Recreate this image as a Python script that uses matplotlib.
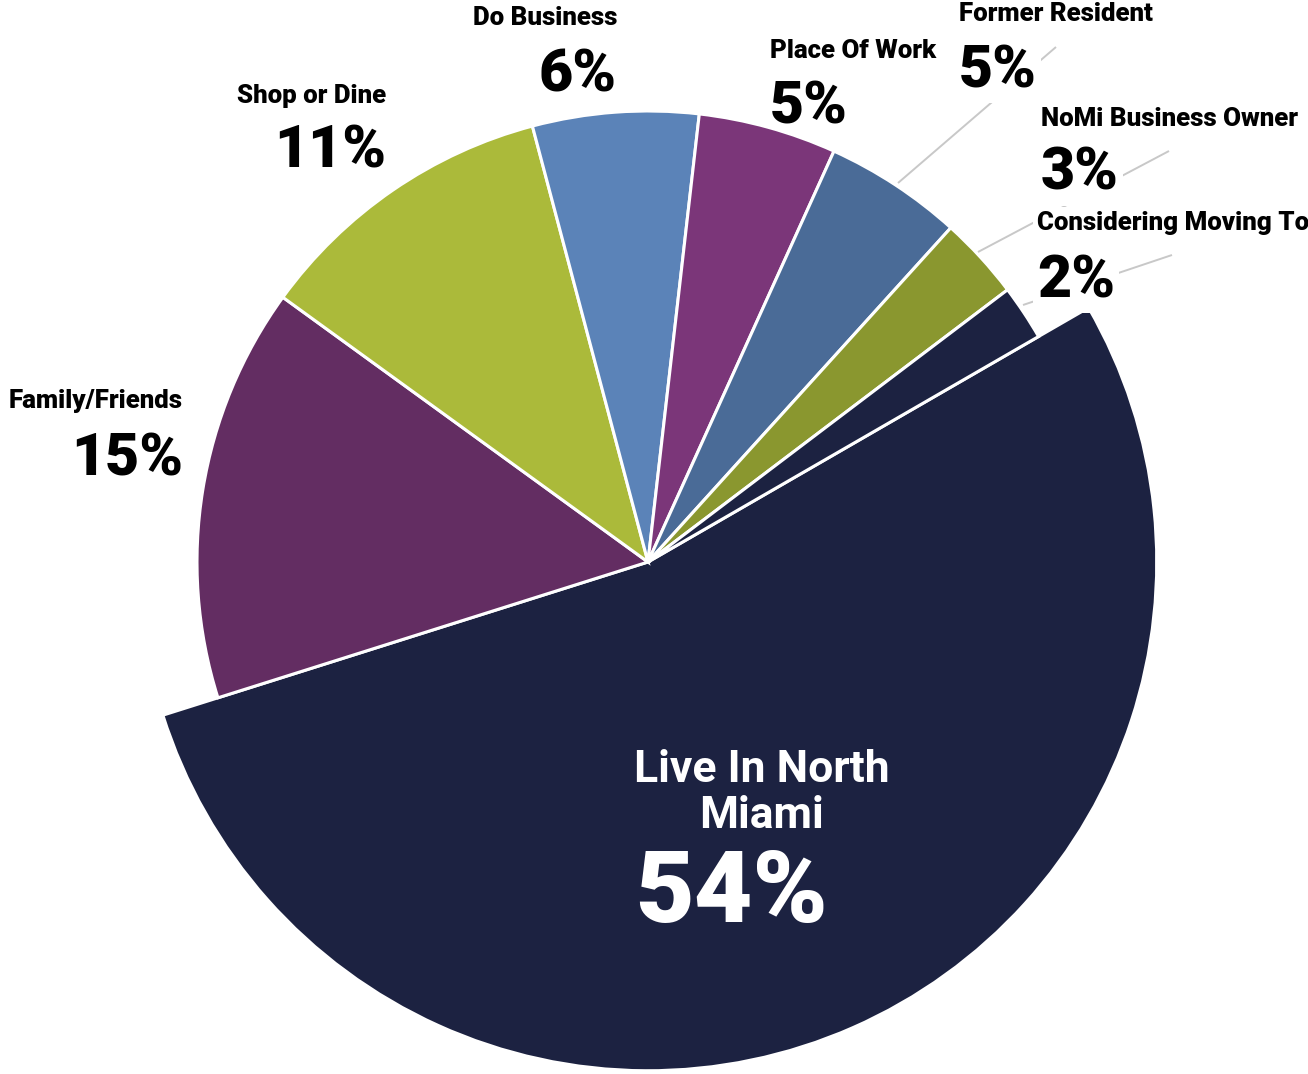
import matplotlib
matplotlib.use("Agg")
import matplotlib.pyplot as plt

categories = ["Live In North Miami", "Family/Friends", "Shop or Dine", "Do Business",
              "Place Of Work", "Former Resident", "NoMi Business Owner", "Considering Moving To"]
values = [54, 15, 11, 6, 5, 5, 3, 2]
pct_labels = ["54%", "15%", "11%", "6%", "5%", "5%", "3%", "2%"]
colors = ["#1c2241", "#632d62", "#abba3a", "#5b83b8", "#7b3679", "#4a6b97", "#8a972f", "#1c2241"]

W, H = 1308, 1074
CX, CY, R = 648, 562, 451

fig = plt.figure(figsize=(W / 100, H / 100), dpi=100)
ax = fig.add_axes([0, 0, 1, 1])

wedges, _ = ax.pie(values, colors=colors, startangle=30, counterclock=False, radius=1,
                   wedgeprops=dict(edgecolor="white", linewidth=2.2))
wedges[0].set_radius(1.128)

ax.set_xlim(-CX / R, (W - CX) / R)
ax.set_ylim(-(H - CY) / R, CY / R)
ax.set_aspect("equal")
ax.axis("off")


def P(px, py):
    return (px - CX) / R, (CY - py) / R


FONT = "Roboto"
box = dict(facecolor="white", edgecolor="none", pad=3)

# leader lines
for (x0, y0), (x1, y1) in [((898, 183), (1056, 47)),
                           ((978, 252), (1169, 151)),
                           ((1023, 305), (1172, 255))]:
    a, b = P(x0, y0), P(x1, y1)
    ax.plot([a[0], b[0]], [a[1], b[1]], color="#c8c8c8", lw=1.4, zorder=1, solid_capstyle="butt")

# outer labels: (index, x, name baseline, pct baseline, align)
outer = [
    (1, 183, 408, 475, "right"),
    (2, 386, 103, 168, "right"),
    (3, 617, 25, 92, "right"),
    (4, 770, 58, 124, "left"),
    (5, 959, 21, 87, "left"),
    (6, 1041, 126, 190, "left"),
    (7, 1037, 230, 297, "left"),
]
for i, x, yn, yp, ha in outer:
    b = box if i >= 5 else None
    ax.text(*P(x, yn), categories[i], ha=ha, va="baseline", family=FONT, fontweight="black",
            fontsize=18.6, color="black", zorder=5, bbox=b)
    ax.text(*P(x, yp), pct_labels[i], ha=ha, va="baseline", family=FONT, fontweight="black",
            fontsize=42.5, color="black", zorder=5, bbox=b)

# inner label for largest slice
ax.text(*P(762, 782), "Live In North", ha="center", va="baseline", family=FONT,
        fontweight="bold", fontsize=32, color="white", zorder=5)
ax.text(*P(762, 828), "Miami", ha="center", va="baseline", family=FONT,
        fontweight="bold", fontsize=32, color="white", zorder=5)
ax.text(*P(635, 922), pct_labels[0], ha="left", va="baseline", family=FONT,
        fontweight="black", fontsize=73, color="white", zorder=5)

fig.savefig("out.png", dpi=100)
